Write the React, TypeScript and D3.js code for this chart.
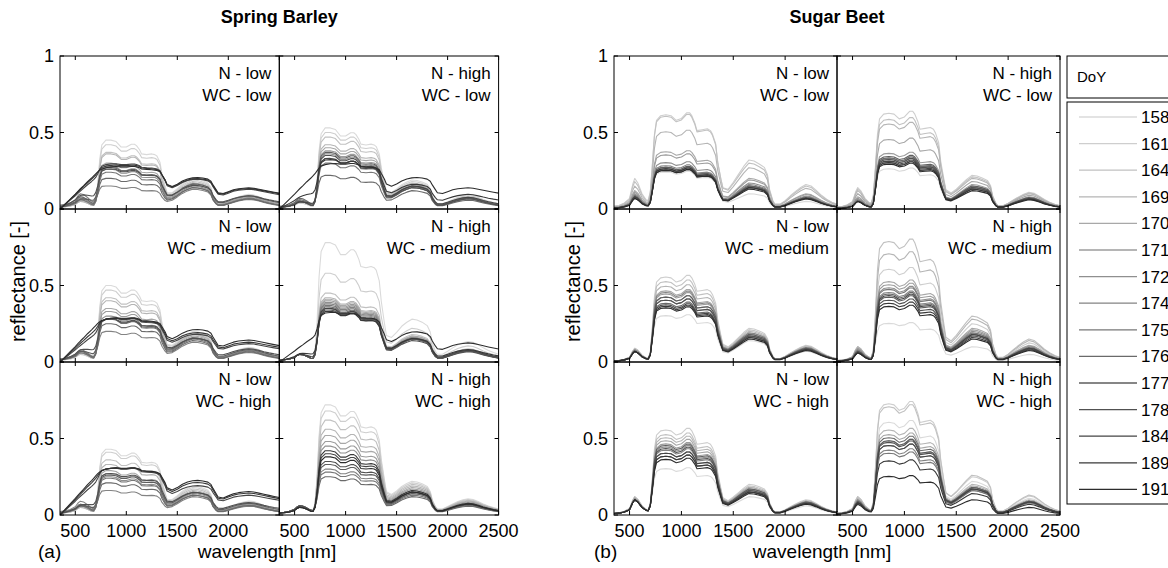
import React from 'react';
import * as d3 from 'd3';

// wavelength grid [nm]
const wavelengths = [350, 400, 450, 500, 530, 550, 580, 620, 660, 680,
  700, 720, 740, 760, 800, 850, 900, 950, 1000, 1050,
  1080, 1100, 1130, 1150, 1200, 1250, 1280, 1300, 1330, 1350,
  1380, 1400, 1450, 1500, 1550, 1600, 1650, 1700, 1750, 1800,
  1830, 1850, 1880, 1900, 1950, 2000, 2050, 2100, 2150, 2200,
  2250, 2300, 2350, 2400, 2450, 2500];

const doyLabels = ['158', '161', '164', '169', '170', '171', '172', '174', '175', '176', '177', '178', '184', '189', '191'];
const xTicks = [500, 1000, 1500, 2000, 2500];
const yTicks = [0, 0.5, 1];
const nLevels = ['low', 'high'];
const wcLevels = ['low', 'medium', 'high'];

// spectral components (spring barley)
const barleyVis = [0.25, 0.3, 0.4, 0.6, 0.9, 1.0, 0.95, 0.75, 0.5, 0.45,
  0.6, 0.5, 0.25, 0.1, 0, 0, 0, 0, 0, 0,
  0, 0, 0, 0, 0, 0, 0, 0, 0, 0,
  0, 0, 0, 0, 0, 0, 0, 0, 0, 0,
  0, 0, 0, 0, 0, 0, 0, 0, 0, 0,
  0, 0, 0, 0, 0, 0];
const barleyNir = [0, 0, 0, 0, 0, 0, 0, 0, 0, 0,
  0.05, 0.3, 0.7, 0.92, 1.0, 1.0, 0.98, 0.9, 0.9, 0.94,
  0.94, 0.92, 0.86, 0.8, 0.79, 0.8, 0.79, 0.77, 0.68, 0.5,
  0.3, 0.15, 0.08, 0.05, 0.03, 0.01, 0, 0, 0, 0,
  0, 0, 0, 0, 0, 0, 0, 0, 0, 0,
  0, 0, 0, 0, 0, 0];
const barleySwir = [0, 0, 0, 0, 0, 0, 0, 0, 0, 0,
  0, 0, 0, 0, 0, 0, 0, 0, 0, 0,
  0, 0, 0, 0, 0, 0, 0, 0, 0, 0.02,
  0.08, 0.2, 0.35, 0.55, 0.75, 0.9, 1.0, 0.98, 0.93, 0.85,
  0.7, 0.45, 0.25, 0.18, 0.18, 0.25, 0.33, 0.4, 0.45, 0.48,
  0.46, 0.4, 0.33, 0.27, 0.22, 0.18];
const barleySoil = [0, 0.12, 0.24, 0.36, 0.44, 0.49, 0.56, 0.66, 0.75, 0.8,
  0.85, 0.9, 0.94, 0.97, 1.0, 1.02, 1.03, 1.02, 1.02, 1.03,
  1.03, 1.02, 1.0, 0.97, 0.96, 0.95, 0.94, 0.93, 0.9, 0.82,
  0.7, 0.58, 0.52, 0.56, 0.62, 0.66, 0.68, 0.69, 0.68, 0.66,
  0.62, 0.55, 0.45, 0.38, 0.36, 0.4, 0.44, 0.46, 0.47, 0.48,
  0.47, 0.45, 0.43, 0.41, 0.39, 0.37];

// spectral components (sugar beet)
const beetVis = [0.1, 0.12, 0.2, 0.35, 0.8, 1.0, 0.85, 0.5, 0.3, 0.28,
  0.45, 0.4, 0.15, 0, 0, 0, 0, 0, 0, 0,
  0, 0, 0, 0, 0, 0, 0, 0, 0, 0,
  0, 0, 0, 0, 0, 0, 0, 0, 0, 0,
  0, 0, 0, 0, 0, 0, 0, 0, 0, 0,
  0, 0, 0, 0, 0, 0];
const beetNir = [0, 0, 0, 0, 0, 0, 0, 0, 0, 0,
  0.04, 0.35, 0.75, 0.95, 1.0, 1.01, 1.0, 0.95, 0.97, 1.03,
  1.03, 1.0, 0.92, 0.84, 0.85, 0.86, 0.84, 0.8, 0.7, 0.5,
  0.3, 0.15, 0.08, 0.05, 0.03, 0.01, 0, 0, 0, 0,
  0, 0, 0, 0, 0, 0, 0, 0, 0, 0,
  0, 0, 0, 0, 0, 0];
const beetSwir = [0, 0, 0, 0, 0, 0, 0, 0, 0, 0,
  0, 0, 0, 0, 0, 0, 0, 0, 0, 0,
  0, 0, 0, 0, 0, 0, 0, 0, 0, 0.01,
  0.05, 0.15, 0.25, 0.45, 0.65, 0.85, 1.0, 0.98, 0.92, 0.85,
  0.7, 0.4, 0.18, 0.1, 0.1, 0.17, 0.27, 0.36, 0.44, 0.5,
  0.47, 0.38, 0.28, 0.2, 0.14, 0.1];
const beetSoil = wavelengths.map(() => 0);

// per-date component weights [vis, nir, swir, soil], dates in doyLabels order
const barleyNLowWcLow = [
  [0.05, 0.45, 0.2, 0], [0.05, 0.42, 0.19, 0], [0.06, 0.37, 0.18, 0], [0.05, 0.36, 0.17, 0],
  [0.08, 0.3, 0.17, 0], [0.06, 0.28, 0.16, 0], [0.07, 0.26, 0.15, 0], [0.1, 0.15, 0.13, 0],
  [0.06, 0.24, 0.14, 0], [0.08, 0.2, 0.14, 0], [0.04, 0.22, 0.13, 0.05], [0.05, 0.18, 0.1, 0.08],
  [0, 0.05, 0.03, 0.24], [0, 0.02, 0.02, 0.26], [0, 0, 0.02, 0.27]];
const barleyNHighWcLow = [
  [0.04, 0.53, 0.19, 0], [0.04, 0.5, 0.18, 0], [0.05, 0.47, 0.17, 0], [0.05, 0.42, 0.16, 0],
  [0.05, 0.4, 0.16, 0], [0.05, 0.38, 0.15, 0], [0.05, 0.36, 0.15, 0], [0.06, 0.33, 0.14, 0],
  [0.06, 0.3, 0.14, 0], [0.07, 0.22, 0.12, 0], [0.05, 0.37, 0.15, 0], [0.05, 0.35, 0.14, 0],
  [0.03, 0.3, 0.13, 0.03], [0.02, 0.2, 0.08, 0.12], [0, 0.02, 0.02, 0.27]];
const barleyNLowWcMedium = [
  [0.05, 0.5, 0.2, 0], [0.05, 0.47, 0.19, 0], [0.06, 0.42, 0.18, 0], [0.06, 0.4, 0.18, 0],
  [0.07, 0.35, 0.17, 0], [0.06, 0.33, 0.16, 0], [0.07, 0.3, 0.16, 0], [0.08, 0.2, 0.13, 0],
  [0.06, 0.28, 0.15, 0], [0.07, 0.25, 0.14, 0], [0.05, 0.24, 0.13, 0.04], [0.04, 0.2, 0.1, 0.08],
  [0, 0.06, 0.03, 0.22], [0, 0.03, 0.02, 0.25], [0, 0, 0.02, 0.28]];
const barleyNHighWcMedium = [
  [0.05, 0.78, 0.28, 0], [0.05, 0.58, 0.22, 0], [0.05, 0.45, 0.18, 0], [0.05, 0.42, 0.17, 0],
  [0.05, 0.41, 0.17, 0], [0.05, 0.4, 0.16, 0], [0.05, 0.39, 0.16, 0], [0.05, 0.38, 0.16, 0],
  [0.05, 0.37, 0.15, 0], [0.05, 0.36, 0.15, 0], [0.05, 0.35, 0.15, 0], [0.05, 0.34, 0.14, 0],
  [0.04, 0.33, 0.14, 0.02], [0.03, 0.28, 0.12, 0.05], [0, 0.12, 0.06, 0.2]];
const barleyNLowWcHigh = [
  [0.05, 0.43, 0.19, 0], [0.05, 0.41, 0.18, 0], [0.06, 0.36, 0.17, 0], [0.05, 0.33, 0.16, 0],
  [0.06, 0.29, 0.15, 0], [0.06, 0.27, 0.15, 0], [0.07, 0.25, 0.14, 0], [0.09, 0.16, 0.12, 0],
  [0.06, 0.24, 0.13, 0], [0.07, 0.21, 0.13, 0], [0.04, 0.22, 0.12, 0.04], [0.03, 0.2, 0.1, 0.07],
  [0, 0.05, 0.02, 0.25], [0, 0.02, 0.02, 0.28], [0, 0, 0.02, 0.3]];
const barleyNHighWcHigh = [
  [0.06, 0.72, 0.22, 0], [0.06, 0.68, 0.21, 0], [0.06, 0.62, 0.2, 0], [0.06, 0.56, 0.19, 0],
  [0.06, 0.52, 0.18, 0], [0.06, 0.48, 0.17, 0], [0.06, 0.45, 0.16, 0], [0.06, 0.3, 0.14, 0],
  [0.06, 0.28, 0.13, 0], [0.06, 0.25, 0.12, 0], [0.06, 0.33, 0.14, 0], [0.06, 0.35, 0.15, 0],
  [0.05, 0.4, 0.15, 0], [0.05, 0.42, 0.16, 0], [0.05, 0.38, 0.15, 0]];

const beetNLowWcLow = [
  [0.12, 0.24, 0.1, 0], [0.2, 0.61, 0.32, 0], [0.18, 0.6, 0.3, 0], [0.15, 0.5, 0.27, 0],
  [0.12, 0.37, 0.2, 0], [0.11, 0.35, 0.19, 0], [0.1, 0.3, 0.17, 0], [0.09, 0.28, 0.16, 0],
  [0.09, 0.27, 0.15, 0], [0.08, 0.26, 0.15, 0], [0.08, 0.27, 0.15, 0], [0.08, 0.26, 0.14, 0],
  [0.08, 0.25, 0.14, 0], [0.07, 0.26, 0.14, 0], [0.07, 0.25, 0.13, 0]];
const beetNHighWcLow = [
  [0.1, 0.26, 0.12, 0], [0.14, 0.62, 0.22, 0], [0.13, 0.58, 0.21, 0], [0.12, 0.55, 0.2, 0],
  [0.1, 0.45, 0.18, 0], [0.08, 0.36, 0.16, 0], [0.07, 0.33, 0.15, 0], [0.06, 0.32, 0.14, 0],
  [0.06, 0.3, 0.14, 0], [0.05, 0.33, 0.14, 0], [0.05, 0.34, 0.15, 0], [0.05, 0.32, 0.14, 0],
  [0.05, 0.31, 0.13, 0], [0.05, 0.3, 0.13, 0], [0.05, 0.29, 0.12, 0]];
const beetNLowWcMedium = [
  [0.08, 0.3, 0.14, 0], [0.09, 0.55, 0.22, 0], [0.09, 0.52, 0.21, 0], [0.08, 0.49, 0.2, 0],
  [0.08, 0.46, 0.19, 0], [0.08, 0.44, 0.18, 0], [0.08, 0.42, 0.18, 0], [0.07, 0.45, 0.19, 0],
  [0.07, 0.4, 0.17, 0], [0.07, 0.38, 0.17, 0], [0.07, 0.42, 0.18, 0], [0.07, 0.4, 0.17, 0],
  [0.07, 0.37, 0.16, 0], [0.07, 0.36, 0.16, 0], [0.07, 0.35, 0.15, 0]];
const beetNHighWcMedium = [
  [0.08, 0.25, 0.1, 0], [0.1, 0.6, 0.25, 0], [0.1, 0.78, 0.3, 0], [0.1, 0.7, 0.28, 0],
  [0.09, 0.52, 0.22, 0], [0.09, 0.5, 0.21, 0], [0.08, 0.48, 0.2, 0], [0.08, 0.45, 0.19, 0],
  [0.07, 0.47, 0.19, 0], [0.07, 0.44, 0.18, 0], [0.07, 0.42, 0.18, 0], [0.07, 0.4, 0.17, 0],
  [0.06, 0.43, 0.18, 0], [0.06, 0.38, 0.16, 0], [0.06, 0.36, 0.15, 0]];
const beetNLowWcHigh = [
  [0.1, 0.3, 0.12, 0], [0.12, 0.55, 0.2, 0], [0.12, 0.52, 0.19, 0], [0.11, 0.5, 0.18, 0],
  [0.11, 0.48, 0.18, 0], [0.11, 0.46, 0.17, 0], [0.1, 0.44, 0.17, 0], [0.1, 0.42, 0.16, 0],
  [0.1, 0.4, 0.16, 0], [0.1, 0.38, 0.15, 0], [0.1, 0.45, 0.17, 0], [0.1, 0.43, 0.16, 0],
  [0.1, 0.4, 0.15, 0], [0.1, 0.38, 0.15, 0], [0.1, 0.36, 0.14, 0]];
const beetNHighWcHigh = [
  [0.1, 0.6, 0.22, 0], [0.12, 0.72, 0.25, 0], [0.12, 0.7, 0.26, 0], [0.11, 0.55, 0.2, 0],
  [0.1, 0.52, 0.19, 0], [0.1, 0.48, 0.18, 0], [0.1, 0.45, 0.17, 0], [0.09, 0.42, 0.16, 0],
  [0.09, 0.4, 0.16, 0], [0.09, 0.5, 0.18, 0], [0.09, 0.48, 0.18, 0], [0.08, 0.47, 0.17, 0],
  [0.08, 0.45, 0.17, 0], [0.08, 0.35, 0.14, 0], [0.07, 0.25, 0.1, 0]];

const FONT = "'Liberation Sans', Arial, Helvetica, sans-serif";

export default function App() {
  const W = 1168;
  const H = 568;
  const top = 56;
  const rowH = 153;
  const tickLen = 4;

  const groups = [
    {
      key: 'a', x0: 60, colW: 219.3, title: 'Spring Barley', tag: '(a)', tagX: 38, xlabelCx: 267, ylabelX: 25,
      comps: [barleyVis, barleyNir, barleySwir, barleySoil],
      panels: [[barleyNLowWcLow, barleyNHighWcLow], [barleyNLowWcMedium, barleyNHighWcMedium], [barleyNLowWcHigh, barleyNHighWcHigh]],
    },
    {
      key: 'b', x0: 614, colW: 223, title: 'Sugar Beet', tag: '(b)', tagX: 594, xlabelCx: 822, ylabelX: 580,
      comps: [beetVis, beetNir, beetSwir, beetSoil],
      panels: [[beetNLowWcLow, beetNHighWcLow], [beetNLowWcMedium, beetNHighWcMedium], [beetNLowWcHigh, beetNHighWcHigh]],
    },
  ];

  const color = d3.scaleLinear<string>()
    .domain([0, doyLabels.length - 1])
    .range(['#dadada', '#2c2c2c'])
    .interpolate(d3.interpolateRgb);

  const legendX = 1067;
  const legendItemY0 = 117;
  const legendStep = 26.6;

  return (
    <svg width={W} height={H} style={{ position: 'absolute', left: 0, top: 0, background: '#fff' }} fontFamily={FONT}>
      <rect x={0} y={0} width={W} height={H} fill="#fff" />
      <defs>
        {groups.map((g) =>
          g.panels.map((row, r) => row.map((_, c) => (
            <clipPath key={`clip-${g.key}-${r}-${c}`} id={`clip-${g.key}-${r}-${c}`}>
              <rect x={g.x0 + c * g.colW} y={top + r * rowH} width={g.colW} height={rowH} />
            </clipPath>
          ))))}
      </defs>
      {groups.map((g) => {
        const gRight = g.x0 + 2 * g.colW;
        const gCx = (g.x0 + gRight) / 2;
        return (
          <g key={g.key}>
            <text x={gCx} y={23} textAnchor="middle" fontSize={18} fontWeight="bold">{g.title}</text>
            {g.panels.map((row, r) => row.map((coefs, c) => {
              const px = g.x0 + c * g.colW;
              const py = top + r * rowH;
              const x = d3.scaleLinear().domain([350, 2500]).range([px, px + g.colW]);
              const y = d3.scaleLinear().domain([0, 1]).range([py + rowH, py]);
              const line = d3.line<number>()
                .x((_, i) => x(wavelengths[i]))
                .y((v) => y(v));
              return (
                <g key={`p-${r}-${c}`}>
                  <g clipPath={`url(#clip-${g.key}-${r}-${c})`}>
                    {coefs.map((cf, k) => {
                      const vals = wavelengths.map((_, i) =>
                        cf[0] * g.comps[0][i] + cf[1] * g.comps[1][i] + cf[2] * g.comps[2][i] + cf[3] * g.comps[3][i]);
                      return (
                        <path key={k} d={line(vals) || ''} fill="none" stroke={color(k)} strokeWidth={1.1} strokeLinejoin="round" />
                      );
                    })}
                  </g>
                  <rect x={px} y={py} width={g.colW} height={rowH} fill="none" stroke="#000" strokeWidth={1} />
                  {xTicks.map((t) => (
                    <g key={`xt${t}`}>
                      <line x1={x(t)} x2={x(t)} y1={py} y2={py + tickLen} stroke="#000" />
                      <line x1={x(t)} x2={x(t)} y1={py + rowH} y2={py + rowH - tickLen} stroke="#000" />
                    </g>
                  ))}
                  {yTicks.map((t) => (
                    <g key={`yt${t}`}>
                      <line x1={px} x2={px + tickLen} y1={y(t)} y2={y(t)} stroke="#000" />
                      <line x1={px + g.colW} x2={px + g.colW - tickLen} y1={y(t)} y2={y(t)} stroke="#000" />
                    </g>
                  ))}
                  <text x={px + g.colW - 8} y={py + 23} textAnchor="end" fontSize={17}>{`N - ${nLevels[c]}`}</text>
                  <text x={px + g.colW - 8} y={py + 45} textAnchor="end" fontSize={17}>{`WC - ${wcLevels[r]}`}</text>
                  {c === 0 && yTicks.filter((t) => r === 0 || t < 1).map((t) => (
                    <text key={`yl${t}`} x={px - 6} y={y(t) + 6} textAnchor="end" fontSize={18}>{String(t)}</text>
                  ))}
                  {r === 2 && xTicks.filter((t) => c === 1 || t < 2500).map((t) => (
                    <text key={`xl${t}`} x={x(t)} y={537} textAnchor="middle" fontSize={18}>{String(t)}</text>
                  ))}
                </g>
              );
            }))}
            <text transform={`translate(${g.ylabelX},${top + rowH * 1.5 - 4}) rotate(-90)`} textAnchor="middle" fontSize={20}>reflectance [-]</text>
            <text x={g.xlabelCx} y={558} textAnchor="middle" fontSize={19}>wavelength [nm]</text>
            <text x={g.tagX} y={558} fontSize={19}>{g.tag}</text>
          </g>
        );
      })}
      <g>
        <rect x={legendX} y={56} width={140} height={42} fill="#fff" stroke="#000" />
        <text x={legendX + 10} y={82} fontSize={15}>DoY</text>
        <rect x={legendX} y={102} width={140} height={402} fill="#fff" stroke="#000" />
        {doyLabels.map((d, k) => {
          const yy = legendItemY0 + k * legendStep;
          return (
            <g key={d}>
              <line x1={legendX + 12} x2={legendX + 70} y1={yy} y2={yy} stroke={color(k)} strokeWidth={1.3} />
              <text x={legendX + 74} y={yy + 6} fontSize={17}>{d}</text>
            </g>
          );
        })}
      </g>
    </svg>
  );
}
